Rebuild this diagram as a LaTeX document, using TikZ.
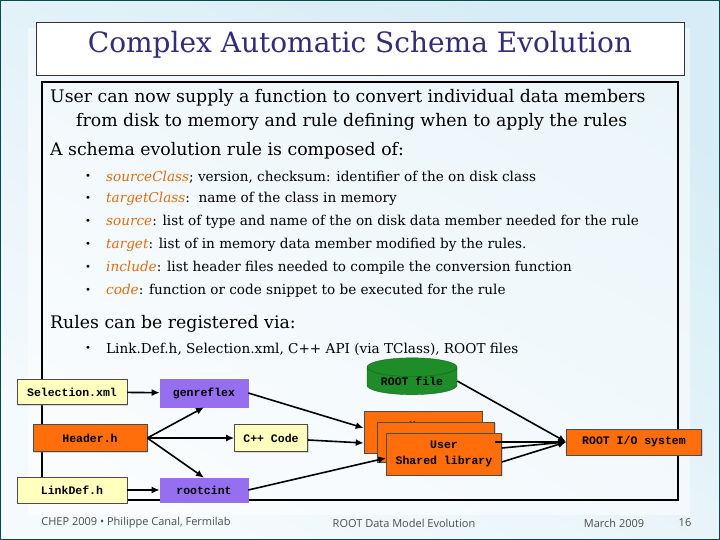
\documentclass[tikz,border=0pt]{standalone}
\usepackage{fontspec}
\setmainfont{DejaVu Serif}
\setsansfont{Open Sans}
\setmonofont{Liberation Mono}
\usetikzlibrary{shapes.geometric,arrows.meta,shadows}
\definecolor{bgA}{RGB}{214,236,246}
\definecolor{bgB}{RGB}{245,250,253}
\definecolor{ttl}{RGB}{50,45,120}
\definecolor{kw}{RGB}{220,110,20}
\definecolor{ylw}{RGB}{255,255,190}
\definecolor{org}{RGB}{255,110,10}
\definecolor{prp}{RGB}{150,110,240}
\definecolor{grn}{RGB}{30,140,40}
\begin{document}
\begin{tikzpicture}[x=1pt,y=-1pt,
  box/.style={draw=black!70,line width=0.6pt,font=\ttfamily\bfseries\fontsize{11.5}{13}\selectfont,inner sep=0pt,drop shadow={shadow xshift=1pt,shadow yshift=-1pt,opacity=0.3}},
  arr/.style={-{Latex[length=8pt,width=7pt]},line width=1.6pt},
  txt/.style={anchor=west,inner sep=0pt,font=\fontsize{17.3}{20}\selectfont},
  itm/.style={anchor=west,inner sep=0pt,font=\fontsize{13.6}{16}\selectfont},
  bul/.style={inner sep=0pt,font=\fontsize{10}{12}\selectfont}]
\useasboundingbox (0,0) rectangle (720,540);
\shade[top color=bgA,bottom color=bgB,shading angle=-30] (0,0) rectangle (720,540);
\draw[teal!60!black,line width=1pt] (0.5,0.5) rectangle (719.5,539.5);
\fill[white,opacity=0.5] (28,28) rectangle (690,515);
\node[draw=black!80,fill=white,minimum width=648pt,minimum height=53pt,anchor=north west,inner sep=0pt] (title) at (36,22) {};
\node[text=ttl,font=\fontsize{28}{32}\selectfont] at (360,45) {Complex Automatic Schema Evolution};
\draw[line width=1.6pt] (42,82) rectangle (678,500);
\node[txt] (l1) at (50,98) {User can now supply a function to convert individual data members};
\node[txt] (l2) at (76,122) {from disk to memory and rule defining when to apply the rules};
\node[txt] (l3) at (50,151) {A schema evolution rule is composed of:};
\foreach \y/\k/\t in {177/sourceClass/{; version, checksum: identifier of the on disk class},
  199/targetClass/{:\ \ name of the class in memory},
  222/source/{: list of type and name of the on disk data member needed for the rule},
  245/target/{: list of in memory data member modified by the rules.},
  268/include/{: list header files needed to compile the conversion function},
  291/code/{: function or code snippet to be executed for the rule}}{
  \node[bul] at (88,\y) {•};
  \node[itm] at (106,\y) {\textcolor{kw}{\textit{\k}}\t};
}
\node[txt] (l4) at (50,324) {Rules can be registered via:};
\node[bul] at (88,349) {•};
\node[itm] at (106,349) {Link.Def.h, Selection.xml, C++ API (via TClass), ROOT files};
% diagram
\node[box,fill=ylw,minimum width=110pt,minimum height=25pt] (sel) at (72,392) {Selection.xml};
\node[box,fill=prp,draw=prp,minimum width=88pt,minimum height=28pt] (gen) at (204,393) {genreflex};
\node[cylinder,shape border rotate=90,aspect=0.3,fill=grn,draw=grn!70!black,minimum width=90pt,minimum height=36pt,font=\ttfamily\bfseries\fontsize{11.5}{13}\selectfont,inner sep=0pt] (rf) at (412,381) {ROOT file};
\node[box,fill=org,minimum width=114pt,minimum height=27pt] (hdr) at (90,438) {Header.h};
\node[box,fill=ylw,minimum width=73pt,minimum height=27pt] (cpp) at (271,438) {C++ Code};
\node[box,fill=org,minimum width=118pt,minimum height=42pt,align=center] (u1) at (423,432) {User\\\phantom{x}};
\node[box,fill=org,minimum width=117pt,minimum height=40pt] (u2) at (436,442) {};
\node[box,fill=org,minimum width=115pt,minimum height=42pt,align=center] (u3) at (444,454) {User\\[3pt]Shared library};
\node[box,fill=org,minimum width=135pt,minimum height=26pt] (rio) at (634,442) {ROOT I/O system};
\node[box,fill=ylw,minimum width=110pt,minimum height=26pt] (lnk) at (72,490) {LinkDef.h};
\node[box,fill=prp,draw=prp,minimum width=88pt,minimum height=24pt] (rc) at (204,490) {rootcint};
\draw[arr] (sel) -- (gen);
\draw[arr] (lnk) -- (rc);
\draw[arr] (hdr.east) -- (gen.south);
\draw[arr] (hdr.east) -- (cpp);
\draw[arr] (hdr.east) -- (rc.north);
\draw[arr] (gen.east) -- (u1.west|-0,428);
\draw[arr] (cpp) -- (u1.west|-0,443);
\draw[arr] (rc.east) -- (u3.west|-0,458);
\draw[arr] (rf.east) -- (rio.west);
\draw[arr] (u2.east) -- (rio.west);
\draw[arr] (u3.east|-0,448) -- (rio.west);
\draw[arr] (u3.east|-0,462) -- (rio.west);
% footer
\node[font=\sffamily\fontsize{11}{13}\selectfont,text=black!70] at (136,523) {CHEP 2009 • Philippe Canal, Fermilab};
\node[font=\sffamily\fontsize{11}{13}\selectfont,text=black!70] at (404,523) {ROOT Data Model Evolution};
\node[font=\sffamily\fontsize{11}{13}\selectfont,text=black!70] at (614,523) {March 2009};
\node[font=\sffamily\fontsize{11}{13}\selectfont,text=black!70] at (685,523) {16};
\end{tikzpicture}
\end{document}
